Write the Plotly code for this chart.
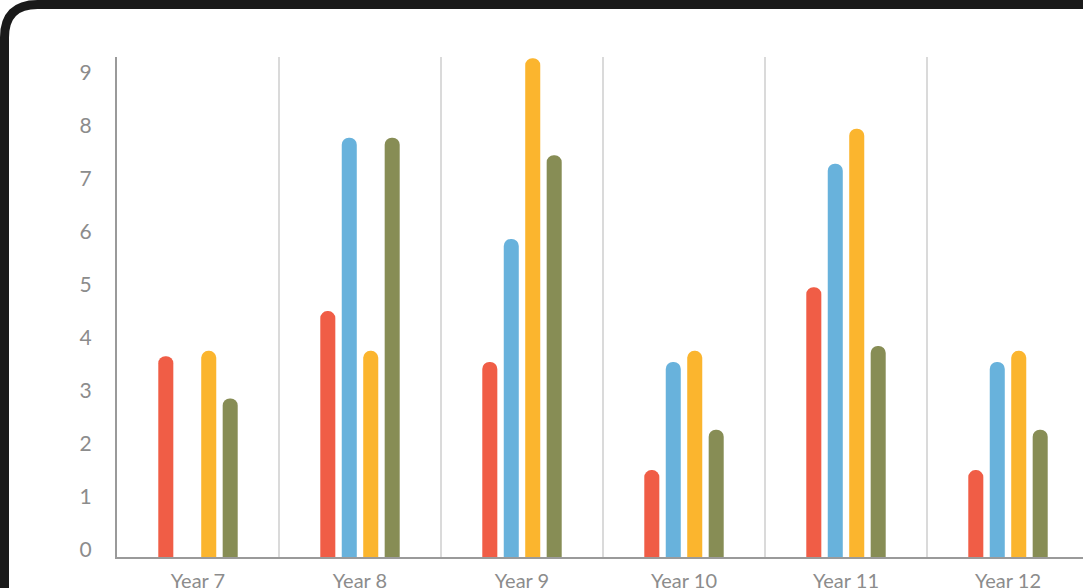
import plotly.graph_objects as go

categories = ["Year 7", "Year 8", "Year 9", "Year 10", "Year 11", "Year 12"]
series_red = [3.79, 4.64, 3.68, 1.64, 5.09, 1.64]
series_blue = [None, 7.91, 6.00, 3.68, 7.42, 3.68]
series_yellow = [3.89, 3.89, 9.41, 3.89, 8.08, 3.89]
series_olive = [2.99, 7.91, 7.58, 2.40, 3.98, 2.40]
y_ticks = list(range(0, 10))

colors = ["#F05D46", "#68B2DC", "#FBB52E", "#878D55"]
names = ["Red", "Blue", "Yellow", "Olive"]
all_series = [series_red, series_blue, series_yellow, series_olive]

W, H = 1083, 588
ml, mt, mb = 117, 57, 31
plot_w = W - ml
plot_h = H - mt - mb
cat_px = 162.0

fig = go.Figure()
for name, vals, col in zip(names, all_series, colors):
    fig.add_trace(go.Bar(x=categories, y=vals, name=name, marker_color=col,
                         marker_line_width=0, showlegend=False))

font_fam = "Lato, Inter, sans-serif"
fig.update_layout(
    width=W, height=H,
    margin=dict(l=ml, r=0, t=mt, b=mb, pad=0, autoexpand=False),
    paper_bgcolor="white", plot_bgcolor="white",
    barmode="group", bargap=0.47, bargroupgap=0.3,
    barcornerradius=7,
    font=dict(family=font_fam, color="#8c8c8c", size=20),
)
fig.update_xaxes(
    type="category", range=[-0.5, -0.5 + plot_w / cat_px], automargin=False,
    tickson="boundaries", showgrid=True, gridcolor="#dadada", gridwidth=1.5,
    showline=True, linecolor="#9a9a9a", linewidth=2,
    ticks="", ticklabelstandoff=5, tickfont=dict(size=20, color="#8c8c8c"),
)
fig.update_yaxes(
    range=[0, plot_h / 53.0], tickvals=y_ticks, showgrid=False, zeroline=False,
    automargin=False,
    showline=True, linecolor="#9a9a9a", linewidth=2,
    ticks="", ticklabelstandoff=19, ticklabelshift=-7,
    tickfont=dict(size=21, color="#8c8c8c"),
)

# device-like black rounded frame
ax = -ml / plot_w
ay = 1 + mt / plot_h
t = 4.5
r = 33
path = (f"M {t} {-(t + r)} Q {t} {-t} {t + r} {-t} L 1400 {-t} L 1400 -900 "
        f"L {t} -900 Z")
fig.add_shape(type="path", xref="paper", yref="paper", xsizemode="pixel", ysizemode="pixel",
              xanchor=ax, yanchor=ay, path=path, line=dict(color="#1a1a1a", width=9),
              fillcolor="rgba(0,0,0,0)", layer="above")

fig.write_html("out.html")
